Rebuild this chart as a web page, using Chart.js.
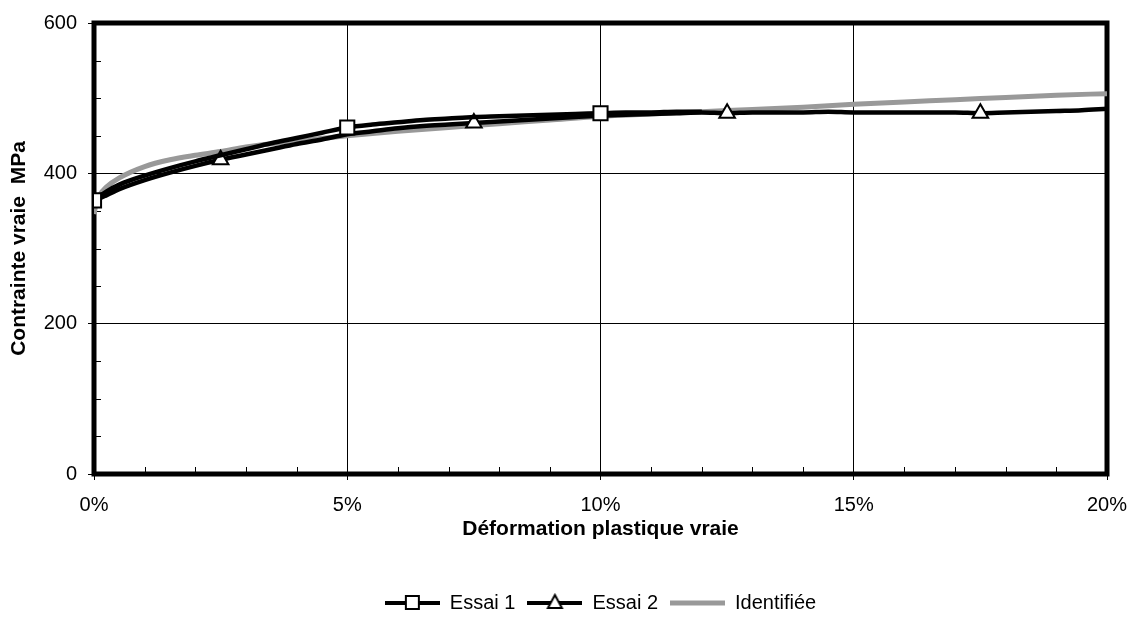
<!DOCTYPE html>
<html>
<head>
<meta charset="utf-8">
<script src="https://cdn.jsdelivr.net/npm/chart.js@4/dist/chart.umd.min.js"></script>
<style>
  body { margin: 0; background: #fff; }
  canvas { display: block; }
</style>
</head>
<body>
<canvas id="chart" width="1131" height="618"></canvas>
<script>
// strain in %, stress in MPa
const strain1 = [0, 0.1, 0.25, 0.5, 1, 1.5, 2, 2.5, 3, 3.5, 4, 4.5, 5, 5.5, 6, 6.5, 7, 7.5, 8, 8.5, 9, 9.5, 10, 10.5, 11, 11.5, 12];
const stress1 = [364, 369, 376, 385, 397, 407, 416, 424, 432, 440, 447, 454, 461, 465, 468, 471, 473, 475, 476, 477, 478, 479, 480, 481, 481, 482, 482];
const markers1 = [0, 5, 10];

const strain2 = [0, 0.1, 0.25, 0.5, 1, 1.5, 2, 2.5, 3, 3.5, 4, 4.5, 5, 5.5, 6, 6.5, 7, 7.5, 8, 8.5, 9, 9.5, 10, 10.5, 11, 11.5, 12, 12.5, 13, 13.5, 14, 14.5, 15, 15.5, 16, 16.5, 17, 17.5, 18, 18.5, 19, 19.5, 20];
const stress2 = [362, 366, 371, 379, 391, 401, 410, 418, 425, 432, 439, 445, 452, 456, 460, 463, 465, 467, 469, 471, 473, 475, 477, 478, 479, 480, 481, 480, 481, 481, 481, 482, 481, 481, 481, 481, 481, 480, 481, 482, 483, 484, 486];
const markers2 = [2.5, 7.5, 12.5, 17.5];

const strainId = [0, 0.05, 0.1, 0.25, 0.5, 1, 1.5, 2, 2.5, 3, 4, 5, 6, 7, 8, 9, 10, 11, 12, 13, 14, 15, 16, 17, 18, 19, 20];
const stressId = [346, 362, 370, 382, 394, 409, 418, 424, 429, 435, 443, 450, 456, 461, 466, 471, 476, 479, 482, 485, 488, 492, 495, 498, 501, 504, 506];

const seriesNames = ['Essai 1', 'Essai 2', 'Identifiée'];
const xTicks = [0, 5, 10, 15, 20];
const yTicks = [0, 200, 400, 600];

const FONT = "'Liberation Sans', Arial, sans-serif";
const GREY = '#999999';

const toPoints = (xs, ys) => xs.map((x, i) => ({ x: x, y: ys[i] }));

// legend swatch: line with marker in the middle, like the spreadsheet legend
function swatch(kind) {
  const c = document.createElement('canvas');
  c.width = 55;
  c.height = 20;
  const ctx = c.getContext('2d');
  ctx.lineWidth = kind === 'grey' ? 5 : 4;
  ctx.strokeStyle = kind === 'grey' ? GREY : '#000';
  ctx.beginPath();
  ctx.moveTo(0, 10);
  ctx.lineTo(55, 10);
  ctx.stroke();
  ctx.lineWidth = 2;
  ctx.strokeStyle = '#000';
  ctx.fillStyle = '#fff';
  if (kind === 'square') {
    ctx.fillRect(21, 3, 13, 13);
    ctx.strokeRect(21, 3, 13, 13);
  } else if (kind === 'triangle') {
    ctx.beginPath();
    ctx.moveTo(27.5, 2);
    ctx.lineTo(34.5, 15);
    ctx.lineTo(20.5, 15);
    ctx.closePath();
    ctx.fill();
    ctx.stroke();
  }
  return c;
}
const swatches = [swatch('square'), swatch('triangle'), swatch('grey')];

const frame = {
  id: 'frame',
  beforeDatasetsDraw(chart) {
    const { ctx, chartArea: a, scales } = chart;
    ctx.save();
    ctx.strokeStyle = '#000';
    ctx.lineWidth = 1;
    ctx.beginPath();
    for (let v = 1; v < 20; v++) {
      if (v % 5 === 0) continue;
      const px = Math.round(scales.x.getPixelForValue(v)) + 0.5;
      ctx.moveTo(px, a.bottom);
      ctx.lineTo(px, a.bottom - 7);
    }
    for (let v = 50; v < 600; v += 50) {
      if (v % 200 === 0) continue;
      const py = Math.round(scales.y.getPixelForValue(v)) + 0.5;
      ctx.moveTo(a.left, py);
      ctx.lineTo(a.left + 7, py);
    }
    ctx.stroke();
    ctx.lineWidth = 5;
    ctx.strokeRect(a.left, a.top, a.right - a.left, a.bottom - a.top);
    ctx.restore();
  }
};

new Chart(document.getElementById('chart'), {
  type: 'line',
  data: {
    datasets: [
      {
        label: seriesNames[0],
        data: toPoints(strain1, stress1),
        borderColor: '#000',
        borderWidth: 4.5,
        cubicInterpolationMode: 'monotone',
        pointStyle: 'rect',
        pointRadius: strain1.map((s) => (markers1.includes(s) ? 10 : 0)),
        pointBackgroundColor: '#fff',
        pointBorderColor: '#000',
        pointBorderWidth: 2,
      },
      {
        label: seriesNames[1],
        data: toPoints(strain2, stress2),
        borderColor: '#000',
        borderWidth: 4.5,
        cubicInterpolationMode: 'monotone',
        pointStyle: 'triangle',
        pointRadius: strain2.map((s) => (markers2.includes(s) ? 9 : 0)),
        pointBackgroundColor: '#fff',
        pointBorderColor: '#000',
        pointBorderWidth: 2,
      },
      {
        label: seriesNames[2],
        data: toPoints(strainId, stressId),
        borderColor: GREY,
        borderWidth: 5,
        cubicInterpolationMode: 'monotone',
        pointRadius: 0,
      },
    ],
  },
  options: {
    responsive: false,
    animation: false,
    layout: { padding: { top: 22, right: 24, left: 0, bottom: -5 } },
    plugins: {
      tooltip: { enabled: false },
      legend: {
        position: 'bottom',
        fullSize: false,
        labels: {
          usePointStyle: true,
          pointStyleWidth: 55,
          padding: 12,
          color: '#000',
          font: { family: FONT, size: 20 },
          generateLabels: (chart) =>
            chart.data.datasets.map((ds, i) => ({
              text: ds.label,
              datasetIndex: i,
              pointStyle: swatches[i],
              fillStyle: '#fff',
              strokeStyle: '#000',
              lineWidth: 0,
              fontColor: '#000',
              hidden: false,
            })),
        },
      },
    },
    scales: {
      x: {
        type: 'linear',
        min: 0,
        max: 20,
        afterBuildTicks: (scale) => {
          scale.ticks = xTicks.map((v) => ({ value: v }));
        },
        afterFit: (scale) => {
          scale.height = 107;
          scale.paddingLeft = 0;
          scale.paddingRight = 0;
        },
        ticks: {
          color: '#000',
          padding: 13,
          maxRotation: 0,
          font: { family: FONT, size: 20 },
          callback: (v) => v + '%',
        },
        grid: { color: '#000', lineWidth: 1, tickLength: 6 },
        border: { display: false },
        title: {
          display: true,
          text: 'Déformation plastique vraie',
          color: '#000',
          font: { family: FONT, size: 21, weight: 'bold' },
          padding: { top: 0, bottom: 39 },
        },
      },
      y: {
        min: 0,
        max: 600,
        afterBuildTicks: (scale) => {
          scale.ticks = yTicks.map((v) => ({ value: v }));
        },
        afterFit: (scale) => {
          scale.width = 94;
        },
        ticks: {
          color: '#000',
          padding: 11,
          font: { family: FONT, size: 20 },
        },
        grid: { color: '#000', lineWidth: 1, tickLength: 6 },
        border: { display: false },
        title: {
          display: true,
          text: 'Contrainte vraie  MPa',
          color: '#000',
          font: { family: FONT, size: 21, weight: 'bold' },
          padding: { top: 7, bottom: 0 },
        },
      },
    },
  },
  plugins: [frame],
});
</script>
</body>
</html>
